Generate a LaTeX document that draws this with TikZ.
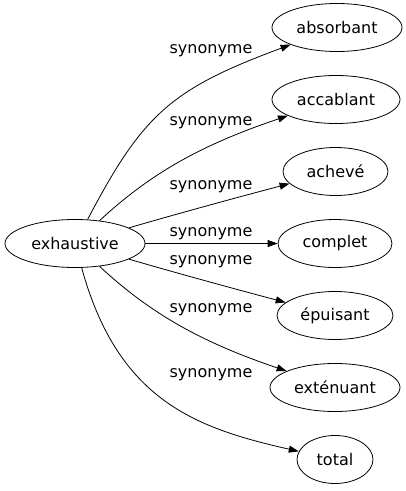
\documentclass[tikz,border=0pt]{standalone}
\usepackage{fontspec}
\setmainfont{DejaVu Sans}
\usetikzlibrary{shapes.geometric,arrows.meta}
\begin{document}
\begin{tikzpicture}[x=1pt,y=-1pt,
  word/.style={draw,ellipse,inner sep=0pt,minimum height=48pt,line width=0.8pt,font=\fontsize{16}{18}\selectfont},
  lbl/.style={inner sep=0pt,font=\fontsize{16}{18}\selectfont},
  syn/.style={-{Triangle[length=10pt,width=7pt]},line width=0.8pt}]
\useasboundingbox (0,0) rectangle (406,491);
\node[word,minimum width=140pt] (ex) at (75,243.5) {exhaustive};
\node[word,minimum width=130pt] (n1) at (337,27.5) {absorbant};
\node[word,minimum width=128pt] (n2) at (336,99.5) {accablant};
\node[word,minimum width=105pt] (n3) at (335.5,171.5) {achevé};
\node[word,minimum width=114pt] (n4) at (335,243.5) {complet};
\node[word,minimum width=116pt] (n5) at (335,315.5) {épuisant};
\node[word,minimum width=130pt] (n6) at (335,387.5) {exténuant};
\node[word,minimum width=76pt] (n7) at (335,459.5) {total};
\draw[syn] (ex) .. controls (143,114) and (171,89) .. (n1);
\draw[syn] (ex) .. controls (154,170) and (207,143) .. (n2);
\draw[syn] (ex) .. controls (180,213) and (235,198) .. (n3);
\draw[syn] (ex) -- (n4);
\draw[syn] (ex) .. controls (180,274) and (235,289) .. (n5);
\draw[syn] (ex) .. controls (154,317) and (207,344) .. (n6);
\draw[syn] (ex) .. controls (118,400) and (195,428) .. (n7);
\node[lbl] (l1) at (211,51) {synonyme};
\node[lbl] (l2) at (211,123) {synonyme};
\node[lbl] (l3) at (211,187) {synonyme};
\node[lbl] (l4) at (211,234) {synonyme};
\node[lbl] (l5) at (211,262) {synonyme};
\node[lbl] (l6) at (211,310) {synonyme};
\node[lbl] (l7) at (211,375) {synonyme};
\end{tikzpicture}
\end{document}
